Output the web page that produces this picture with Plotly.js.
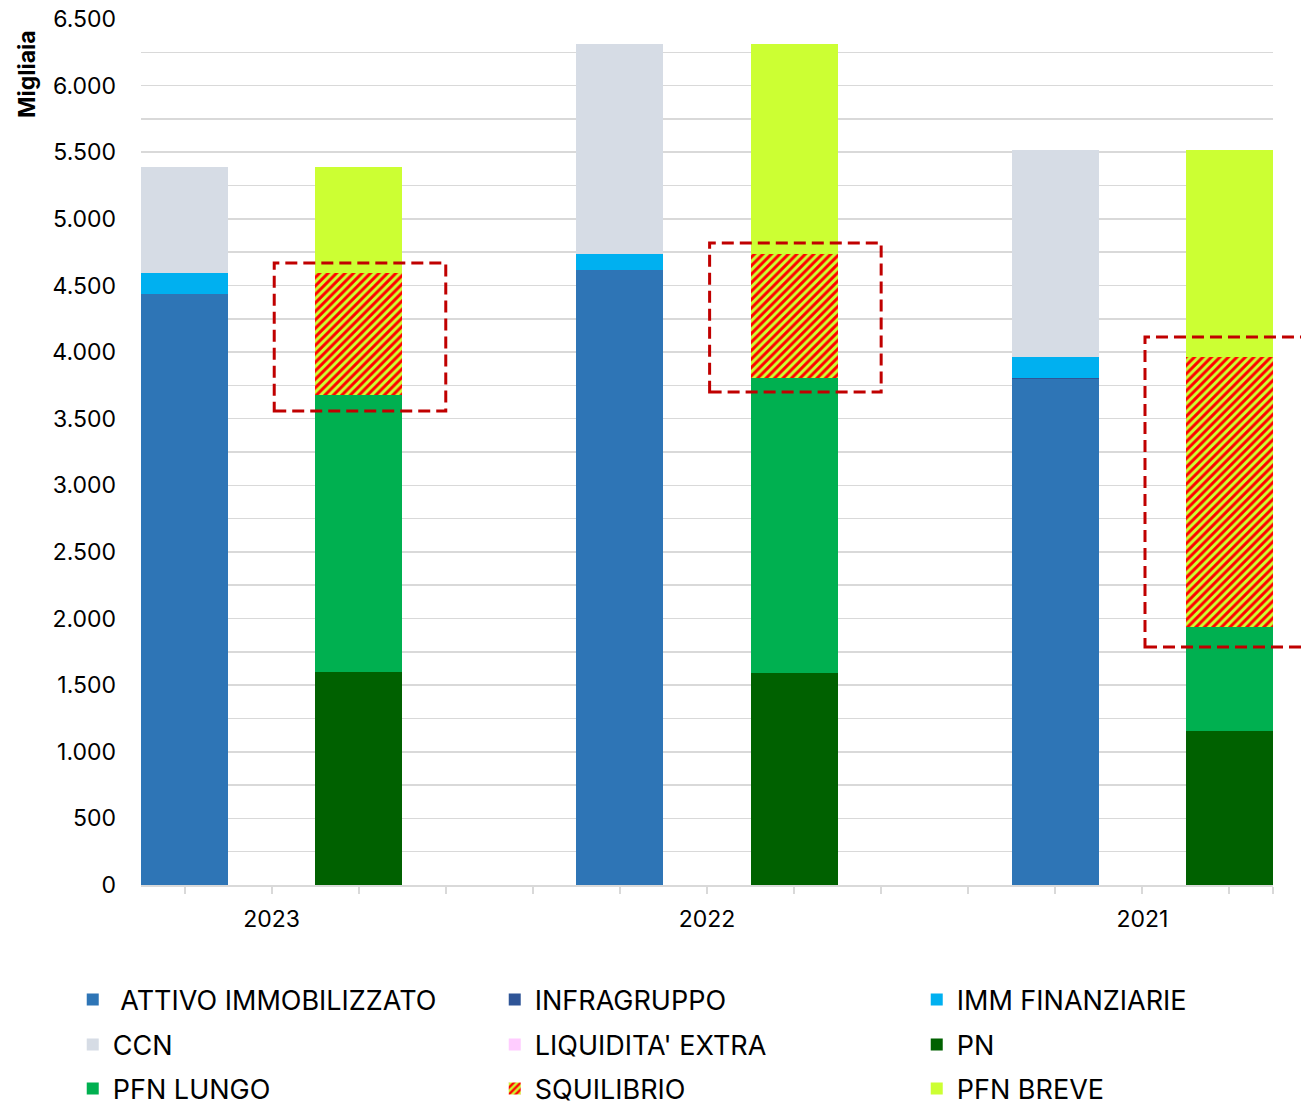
<!DOCTYPE html>
<html><head><meta charset="utf-8">
<script src="https://cdn.plot.ly/plotly-3.0.1.min.js"></script>
<style>html,body{margin:0;padding:0;background:#fff}</style>
</head><body><div id="chart" style="width:1301px;height:1105px"></div>
<script>
// ---- data (Migliaia) ----
const years = ['2023', '2022', '2021'];
const attivoImmobilizzato = [4436, 4616, 3795];
const infragruppo = [0, 0, 10];
const immFinanziarie = [158, 120, 158];
const ccn = [795, 1576, 1554];
const liquiditaExtra = [0, 0, 0];
const pn = [1599, 1591, 1156];
const pfnLungo = [2079, 2214, 781];
const squilibrio = [916, 931, 2026];
const pfnBreve = [795, 1576, 1554];
const yTickVals = [0, 500, 1000, 1500, 2000, 2500, 3000, 3500, 4000, 4500, 5000, 5500, 6000, 6500];

// ---- layout helpers ----
const slotsPerGroup = 5, nSlots = 13;
const leftX = years.map((_, i) => i * slotsPerGroup);
const rightX = years.map((_, i) => i * slotsPerGroup + 2);
const labelX = years.map((_, i) => i * slotsPerGroup + 1);
const boxPadBottom = [120, 105, 150];
const boxPadTop = [75, 83, 150];

const FONT = 'Inter, "Open Sans", "Liberation Sans", sans-serif';

function bar(name, x, y, color, legend, extra) {
  return {
    type: 'bar', name: name, x: x, y: y, width: 1, legend: legend,
    marker: Object.assign({color: color, line: {width: 0}}, extra || {}),
    hovertemplate: name + ': %{y}<extra></extra>'
  };
}

const data = [
  bar('\u00a0ATTIVO IMMOBILIZZATO', leftX, attivoImmobilizzato, '#2e75b6', 'legend'),
  bar('INFRAGRUPPO', leftX, infragruppo, '#2f5597', 'legend'),
  bar('IMM FINANZIARIE', leftX, immFinanziarie, '#00b0f0', 'legend'),
  bar('CCN', leftX, ccn, '#d6dce5', 'legend2'),
  bar("LIQUIDITA' EXTRA", leftX, liquiditaExtra, '#ffccff', 'legend2'),
  bar('PN', rightX, pn, '#006100', 'legend2'),
  bar('PFN LUNGO', rightX, pfnLungo, '#00b050', 'legend3'),
  bar('SQUILIBRIO', rightX, squilibrio, '#ccff33', 'legend3',
      {pattern: {shape: '/', fgcolor: '#ff0000', bgcolor: '#ccff33', size: 6, solidity: 0.5}}),
  bar('PFN BREVE', rightX, pfnBreve, '#ccff33', 'legend3')
];

const toPaperX = v => (v + 0.5) / nSlots;
const shapes = years.map((_, i) => {
  const base = pn[i] + pfnLungo[i];
  return {
    type: 'rect', xref: 'paper', yref: 'y',
    x0: toPaperX(rightX[i] - 0.97), x1: toPaperX(rightX[i] + 1.0),
    y0: base - boxPadBottom[i], y1: base + squilibrio[i] + boxPadTop[i],
    line: {color: '#c00000', width: 3, dash: '12px,6px'},
    fillcolor: 'rgba(0,0,0,0)', layer: 'above'
  };
});

const xTickVals = [];
for (let k = 0; k < nSlots; k++) xTickVals.push(k);
xTickVals.push(nSlots - 0.5);
const xTickText = xTickVals.map(v => {
  const idx = labelX.indexOf(v);
  return idx >= 0 ? years[idx] : '';
});

function legendCfg(y) {
  return {
    orientation: 'h', x: -0.0603, xanchor: 'left', y: y, yanchor: 'middle',
    entrywidth: 377, entrywidthmode: 'pixels',
    font: {family: FONT, size: 27, color: '#000'},
    bgcolor: 'rgba(0,0,0,0)', traceorder: 'normal'
  };
}

const layout = {
  width: 1301, height: 1105,
  margin: {l: 141, r: 28, t: 19, b: 220, autoexpand: false},
  paper_bgcolor: '#fff', plot_bgcolor: '#fff',
  barmode: 'stack', bargap: 0,
  separators: ',.',
  font: {family: FONT, color: '#000'},
  showlegend: true,
  legend: legendCfg((885 - 1000) / 866),
  legend2: legendCfg((885 - 1045) / 866),
  legend3: legendCfg((885 - 1089) / 866),
  xaxis: {
    range: [-0.5, nSlots - 0.5], tickmode: 'array', tickvals: xTickVals, ticktext: xTickText,
    showgrid: false, zeroline: false, showline: true, linecolor: '#d9d9d9', linewidth: 2,
    ticks: 'outside', ticklen: 7, tickwidth: 2, tickcolor: '#d9d9d9',
    tickfont: {family: FONT, size: 23, color: '#000'}, ticklabelstandoff: 5, fixedrange: true
  },
  yaxis: {
    range: [0, 6500], tickmode: 'array', tickvals: yTickVals, tickformat: ',d',
    showgrid: true, gridcolor: '#d9d9d9', gridwidth: 1.5,
    minor: {dtick: 250, showgrid: true, gridcolor: '#d9d9d9', gridwidth: 1.5},
    zeroline: false, showline: false, ticks: '',
    tickfont: {family: FONT, size: 23, color: '#000'}, ticklabelstandoff: 24, fixedrange: true
  },
  shapes: shapes,
  annotations: [{
    text: '<b>Migliaia</b>', xref: 'paper', yref: 'paper',
    x: (27 - 141) / 1132, y: (885 - 74) / 866, xanchor: 'center', yanchor: 'middle',
    textangle: -90, showarrow: false, font: {family: FONT, size: 23, color: '#000'}
  }]
};

Plotly.newPlot('chart', data, layout, {displayModeBar: false, staticPlot: true});
</script></body></html>
